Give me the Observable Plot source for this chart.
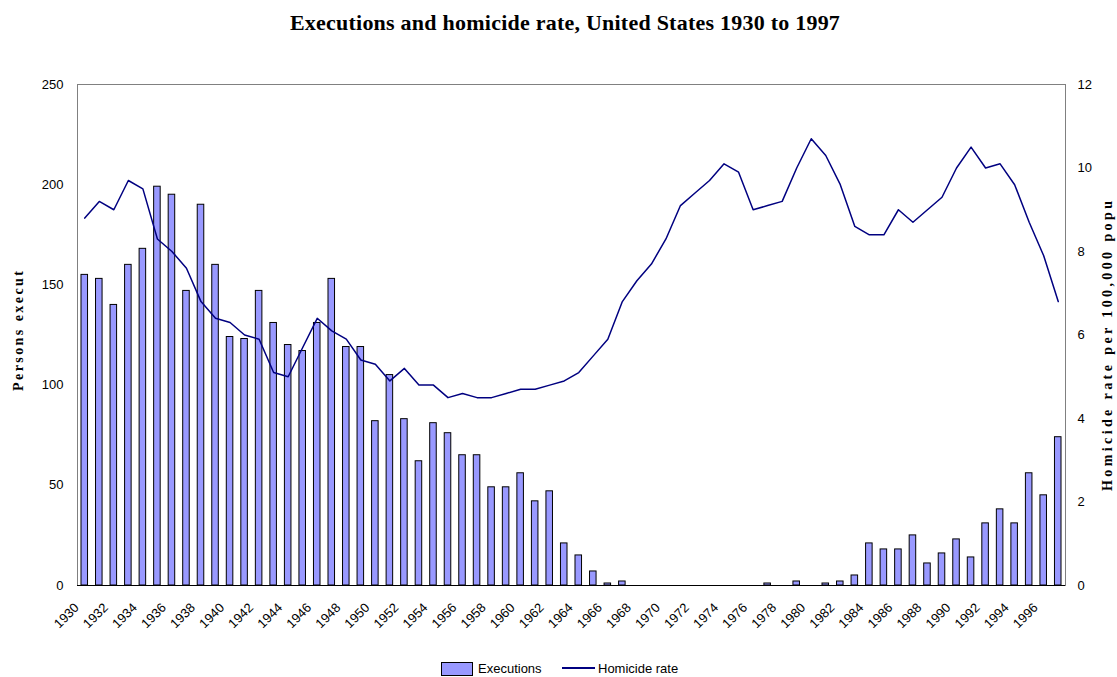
<!DOCTYPE html>
<html><head><meta charset="utf-8">
<script src="https://cdn.jsdelivr.net/npm/d3@7"></script>
<script src="https://cdn.jsdelivr.net/npm/@observablehq/plot@0.6"></script>
<style>
body{margin:0;background:#fff;}
#wrap{position:relative;width:1117px;height:677px;overflow:hidden;background:#fff;}
#title{position:absolute;top:10px;left:0;width:1130px;text-align:center;font:bold 22px "Liberation Serif",serif;white-space:nowrap;color:#000;}
#chart{position:absolute;top:50px;left:0;}
.lg{position:absolute;font:13px "Liberation Sans",Arial,sans-serif;color:#000;white-space:nowrap;line-height:15px;}
</style></head>
<body><div id="wrap"><div id="title"></div><div id="chart"></div>
<div id="sw1" class="lg" style="left:441px;top:662px;width:30px;height:12px;background:#9999ff;border:1px solid #000;"></div>
<div id="lt1" class="lg" style="left:478px;top:661px;"></div>
<div id="sw2" class="lg" style="left:562px;top:667px;width:33px;height:2px;background:#000080;"></div>
<div id="lt2" class="lg" style="left:598px;top:661px;"></div>
</div>
<script>
const years = d3.range(1930, 1998);
const executions = [155,153,140,160,168,199,195,147,190,160,
  124,123,147,131,120,117,131,153,119,119,
  82,105,83,62,81,76,65,65,49,49,
  56,42,47,21,15,7,1,2,0,0,
  0,0,0,0,0,0,0,1,0,2,
  0,1,2,5,21,18,18,25,11,16,
  23,14,31,38,31,56,45,74];
const homicideRate = [8.8,9.2,9.0,9.7,9.5,8.3,8.0,7.6,6.8,6.4,
  6.3,6.0,5.9,5.1,5.0,5.7,6.4,6.1,5.9,5.4,
  5.3,4.9,5.2,4.8,4.8,4.5,4.6,4.5,4.5,4.6,
  4.7,4.7,4.8,4.9,5.1,5.5,5.9,6.8,7.3,7.7,
  8.3,9.1,9.4,9.7,10.1,9.9,9.0,9.1,9.2,10.0,
  10.7,10.3,9.6,8.6,8.4,8.4,9.0,8.7,9.0,9.3,
  10.0,10.5,10.0,10.1,9.6,8.7,7.9,6.8];
const leftTicks = [0,50,100,150,200,250];
const rightTicks = [0,2,4,6,8,10,12];
const xTickYears = d3.range(1930, 1997, 2);
const titleText = "Executions and homicide rate, United States 1930 to 1997";
const yLabelLeft = "Persons execut";
const yLabelRight = "Homicide rate per 100,000 popu";
const seriesNames = ["Executions", "Homicide rate"];

const k = 250 / 12;
const data = years.map((year, i) => ({year, executions: executions[i], rate: homicideRate[i]}));

// title
const titleEl = document.getElementById("title");
titleEl.textContent = titleText;
const ctx = document.createElement("canvas").getContext("2d");
ctx.font = 'bold 22px "Liberation Serif"';
const tw = ctx.measureText(titleText).width;
titleEl.style.letterSpacing = ((550 - tw) / (titleText.length - 1)) + "px";

document.getElementById("lt1").textContent = seriesNames[0];
document.getElementById("lt2").textContent = seriesNames[1];

const plot = Plot.plot({
  width: 1117, height: 605,
  marginLeft: 77, marginRight: 52, marginTop: 34, marginBottom: 70,
  style: {fontFamily: '"Liberation Sans", Arial, sans-serif', fontSize: "13px", background: "white", color: "black"},
  x: {type: "band", domain: years, paddingInner: 0.55, paddingOuter: 0.275, axis: null},
  y: {domain: [0, 250], axis: null},
  marks: [
    Plot.frame({stroke: "#808080"}),
    Plot.barY(data.filter(d => d.executions > 0), {x: "year", y: "executions", fill: "#9999ff", stroke: "black", strokeWidth: 1}),
    Plot.line(data, {x: "year", y: d => d.rate * k, stroke: "#000080", strokeWidth: 1.5}),
    Plot.ruleY([0], {stroke: "black"}),
    Plot.axisY({anchor: "left", ticks: leftTicks, tickSize: 0, tickPadding: 14, label: null}),
    Plot.axisY({anchor: "right", ticks: rightTicks.map(t => t * k), tickFormat: d => Math.round(d / k), tickSize: 0, tickPadding: 12, label: null}),
    Plot.axisX({ticks: xTickYears, tickFormat: d => String(d), tickRotate: -45, tickSize: 0, tickPadding: 9, dx: -8, dy: 11, label: null}),
    Plot.text([yLabelLeft], {frameAnchor: "left", textAnchor: "start", dx: -59, dy: 56, rotate: -90, fontFamily: '"Liberation Serif", serif', fontWeight: "bold", fontSize: 14}),
    Plot.text([yLabelRight], {frameAnchor: "right", textAnchor: "start", dx: 42, dy: 156, rotate: -90, fontFamily: '"Liberation Serif", serif', fontWeight: "bold", fontSize: 14})
  ]
});
document.getElementById("chart").appendChild(plot);
d3.select(plot).selectAll("text").each(function() {
  if (this.textContent === yLabelLeft) { this.setAttribute("textLength", 120); this.setAttribute("lengthAdjust", "spacing"); }
  if (this.textContent === yLabelRight) { this.setAttribute("textLength", 290); this.setAttribute("lengthAdjust", "spacing"); }
});
</script>
</body></html>
